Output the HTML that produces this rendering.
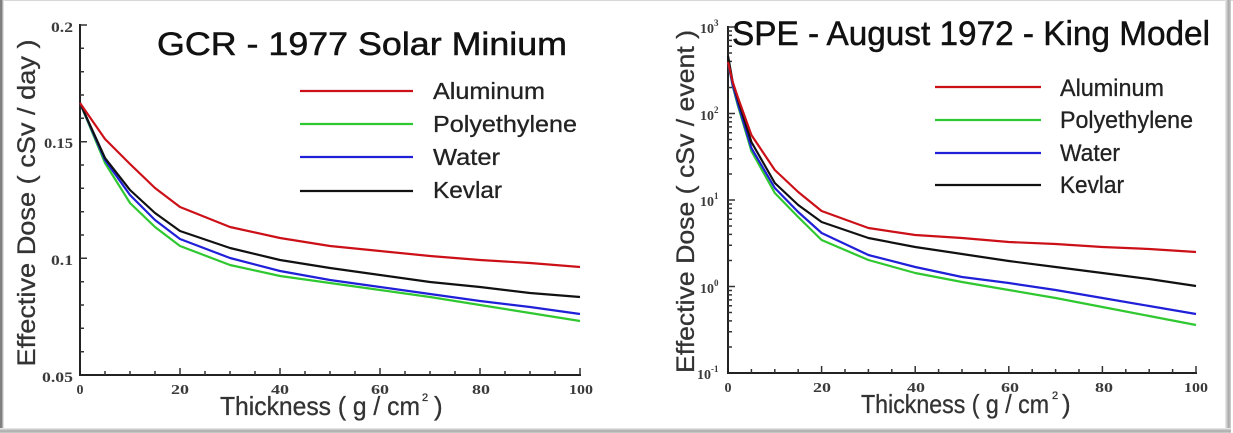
<!DOCTYPE html>
<html><head><meta charset="utf-8"><style>
html,body{margin:0;padding:0;background:#fff;width:1233px;height:433px;overflow:hidden}
svg{display:block}
.t{font-family:"Liberation Sans",sans-serif}
.s{font-family:"Liberation Serif",serif;fill:#3a3a3a;font-weight:bold}
</style></head><body>
<svg width="1233" height="433" viewBox="0 0 1233 433" xmlns="http://www.w3.org/2000/svg">
<defs>
<linearGradient id="gr" x1="0" x2="1" y1="0" y2="0"><stop offset="0" stop-color="#f0f0f0"/><stop offset="0.6" stop-color="#a8a8a8"/><stop offset="1" stop-color="#d0d0d0"/></linearGradient>
<linearGradient id="gb" x1="0" x2="0" y1="0" y2="1"><stop offset="0" stop-color="#f0f0f0"/><stop offset="0.6" stop-color="#a8a8a8"/><stop offset="1" stop-color="#d0d0d0"/></linearGradient>
</defs>
<rect width="1233" height="433" fill="#fff"/>
<!-- frame -->
<rect x="0" y="0" width="1233" height="1" fill="#d8d8d8"/>
<rect x="0" y="0" width="2" height="433" fill="#808080"/>
<rect x="2" y="0" width="1" height="433" fill="#b0b0b0"/>
<rect x="3" y="0" width="1" height="433" fill="#e0e0e0"/>
<rect x="1225" y="0" width="6" height="432" fill="url(#gr)"/>
<rect x="0" y="428" width="1231" height="5" fill="url(#gb)"/>

<!-- ============ LEFT CHART ============ -->
<g stroke="#222" stroke-width="2" fill="none">
<path d="M80 24V375H581"/>
</g>
<g stroke="#333" stroke-width="1.5" fill="none">
<path d="M80 25h7M80 141.7h7M80 258.3h7"/>
<path d="M80 351.7h4M80 328.3h4M80 305h4M80 281.7h4M80 235h4M80 211.7h4M80 188.3h4M80 165h4M80 118.3h4M80 95h4M80 71.7h4M80 48.3h4"/>
<path d="M180 375v-7M280 375v-7M380 375v-7M480 375v-7M580 375v-7"/>
<path d="M105 375v-4M130 375v-4M155 375v-4M205 375v-4M230 375v-4M255 375v-4M305 375v-4M330 375v-4M355 375v-4M405 375v-4M430 375v-4M455 375v-4M505 375v-4M530 375v-4M555 375v-4"/>
</g>
<g class="s" font-size="15" text-anchor="end">
<text x="73" y="32" textLength="22" lengthAdjust="spacingAndGlyphs">0.2</text>
<text x="73" y="148" textLength="29" lengthAdjust="spacingAndGlyphs">0.15</text>
<text x="73" y="265" textLength="22" lengthAdjust="spacingAndGlyphs">0.1</text>
<text x="73" y="382" textLength="31" lengthAdjust="spacingAndGlyphs">0.05</text>
</g>
<g class="s" font-size="14" text-anchor="middle">
<text x="80" y="394">0</text>
<text x="180" y="394" textLength="18" lengthAdjust="spacingAndGlyphs">20</text>
<text x="280" y="394" textLength="18" lengthAdjust="spacingAndGlyphs">40</text>
<text x="380" y="394" textLength="18" lengthAdjust="spacingAndGlyphs">60</text>
<text x="481" y="394" textLength="18" lengthAdjust="spacingAndGlyphs">80</text>
<text x="581" y="394" textLength="24" lengthAdjust="spacingAndGlyphs">100</text>
</g>
<g stroke="#333" stroke-width="0.3">
<text class="t" fill="#333" font-size="25" text-anchor="middle" transform="translate(35,203) rotate(-90)" textLength="327" lengthAdjust="spacingAndGlyphs">Effective Dose ( cSv / day )</text>
<text class="t" fill="#333" font-size="26" x="220" y="415" textLength="200" lengthAdjust="spacingAndGlyphs">Thickness ( g / cm</text>
<text class="t" fill="#333" font-size="11" x="422" y="401">2</text>
<text class="t" fill="#333" font-size="26" x="434" y="415">)</text>
</g>
<text class="t" fill="#111" stroke="#111" stroke-width="0.5" font-size="32" x="157" y="55" textLength="410" lengthAdjust="spacingAndGlyphs">GCR - 1977 Solar Minium</text>
<!-- legend left -->
<g stroke-width="2.2">
<line x1="300" y1="91" x2="413" y2="91" stroke="#cc1018"/>
<line x1="300" y1="124" x2="413" y2="124" stroke="#30c830"/>
<line x1="300" y1="157" x2="413" y2="157" stroke="#2020d8"/>
<line x1="300" y1="191" x2="413" y2="191" stroke="#111"/>
</g>
<g class="t" fill="#222" stroke="#222" stroke-width="0.3" font-size="23">
<text x="433" y="99" textLength="112" lengthAdjust="spacingAndGlyphs">Aluminum</text>
<text x="433" y="132" textLength="144" lengthAdjust="spacingAndGlyphs">Polyethylene</text>
<text x="433" y="165" textLength="67" lengthAdjust="spacingAndGlyphs">Water</text>
<text x="433" y="198" textLength="69" lengthAdjust="spacingAndGlyphs">Kevlar</text>
</g>
<!-- data left -->
<g fill="none" stroke-width="2.2" stroke-linejoin="round">
<polyline stroke="#30c830" points="80,103 105,163 130,203 155,227 180,246 230,265 280,276 330,283 380,290 430,297 480,305 530,313 580,321"/>
<polyline stroke="#2020d8" points="80,103 105,160 130,195 155,220 180,239 230,258 280,271 330,280 380,287 430,294 480,301 530,307 580,314"/>
<polyline stroke="#111" points="80,103 105,158 130,190 155,213 180,231 230,248 280,260 330,268 380,275 430,282 480,287 530,293 580,297"/>
<polyline stroke="#cc1018" points="80,103 105,139 130,164 155,188 180,207 230,227 280,238 330,246 380,251 430,256 480,260 530,263 580,267"/>
</g>

<!-- ============ RIGHT CHART ============ -->
<g stroke="#222" stroke-width="2" fill="none">
<path d="M728 26V373H1197"/>
</g>
<g stroke="#333" stroke-width="1.5" fill="none">
<path d="M728 27h7M728 113.5h7M728 200h7M728 286.5h7"/>
<path d="M728 347h4M728 331.7h4M728 320.9h4M728 312.5h4M728 305.7h4M728 299.9h4M728 294.9h4M728 290.5h4M728 260.5h4M728 245.2h4M728 234.4h4M728 226h4M728 219.2h4M728 213.4h4M728 208.4h4M728 204h4M728 174h4M728 158.7h4M728 147.9h4M728 139.5h4M728 132.7h4M728 126.9h4M728 121.9h4M728 117.5h4M728 87.5h4M728 72.2h4M728 61.4h4M728 53h4M728 46.2h4M728 40.4h4M728 35.4h4M728 31h4"/>
<path d="M821.6 373v-7M915.2 373v-7M1008.8 373v-7M1102.4 373v-7M1196 373v-7"/>
<path d="M751.4 373v-4M774.8 373v-4M798.2 373v-4M845 373v-4M868.4 373v-4M891.8 373v-4M938.6 373v-4M962 373v-4M985.4 373v-4M1032.2 373v-4M1055.6 373v-4M1079 373v-4M1125.8 373v-4M1149.2 373v-4M1172.6 373v-4"/>
</g>
<g class="s" font-size="14">
<text x="700" y="33">10<tspan font-size="9" dy="-7">3</tspan></text>
<text x="700" y="120">10<tspan font-size="9" dy="-7">2</tspan></text>
<text x="700" y="206">10<tspan font-size="9" dy="-7">1</tspan></text>
<text x="700" y="293">10<tspan font-size="9" dy="-7">0</tspan></text>
<text x="697" y="379">10<tspan font-size="9" dy="-7">-1</tspan></text>
</g>
<g class="s" font-size="14" text-anchor="middle">
<text x="728" y="392">0</text>
<text x="822" y="392" textLength="18" lengthAdjust="spacingAndGlyphs">20</text>
<text x="916" y="392" textLength="18" lengthAdjust="spacingAndGlyphs">40</text>
<text x="1010" y="392" textLength="18" lengthAdjust="spacingAndGlyphs">60</text>
<text x="1104" y="392" textLength="18" lengthAdjust="spacingAndGlyphs">80</text>
<text x="1196" y="392" textLength="24" lengthAdjust="spacingAndGlyphs">100</text>
</g>
<g stroke="#333" stroke-width="0.3">
<text class="t" fill="#333" font-size="25" text-anchor="middle" transform="translate(694,201.5) rotate(-90)" textLength="343" lengthAdjust="spacingAndGlyphs">Effective Dose ( cSv / event )</text>
<text class="t" fill="#333" font-size="26" x="861" y="413" textLength="188" lengthAdjust="spacingAndGlyphs">Thickness ( g / cm</text>
<text class="t" fill="#333" font-size="11" x="1052" y="399">2</text>
<text class="t" fill="#333" font-size="26" x="1062" y="413">)</text>
</g>
<text class="t" fill="#111" stroke="#111" stroke-width="0.5" font-size="34" x="732" y="45" textLength="478" lengthAdjust="spacingAndGlyphs">SPE - August 1972 - King Model</text>
<!-- legend right -->
<g stroke-width="2.2">
<line x1="935" y1="87" x2="1041" y2="87" stroke="#cc1018"/>
<line x1="935" y1="120" x2="1041" y2="120" stroke="#30c830"/>
<line x1="935" y1="153" x2="1041" y2="153" stroke="#2020d8"/>
<line x1="935" y1="185" x2="1041" y2="185" stroke="#111"/>
</g>
<g class="t" fill="#222" stroke="#222" stroke-width="0.3" font-size="24">
<text x="1060" y="96" textLength="104" lengthAdjust="spacingAndGlyphs">Aluminum</text>
<text x="1060" y="128" textLength="133" lengthAdjust="spacingAndGlyphs">Polyethylene</text>
<text x="1060" y="161" textLength="60" lengthAdjust="spacingAndGlyphs">Water</text>
<text x="1060" y="193" textLength="64" lengthAdjust="spacingAndGlyphs">Kevlar</text>
</g>
<!-- data right -->
<g fill="none" stroke-width="2.2" stroke-linejoin="round">
<polyline stroke="#30c830" points="728,62 732.7,86 737.4,104 751.4,151 774.8,193 798.2,217 821.6,240 868.4,260 915.2,273 962,282 1008.8,290 1055.6,298 1102.4,307 1149.2,316 1196,325"/>
<polyline stroke="#2020d8" points="728,62 732.7,85 737.4,102 751.4,148 774.8,188 798.2,212 821.6,233 868.4,255 915.2,267 962,277 1008.8,283 1055.6,290 1102.4,298 1149.2,306 1196,314"/>
<polyline stroke="#111" points="728,56 732.7,82 737.4,98 751.4,142 774.8,183 798.2,205 821.6,222 868.4,238 915.2,247 962,254 1008.8,261 1055.6,267 1102.4,273 1149.2,279 1196,286"/>
<polyline stroke="#cc1018" points="728,62 732.7,82 737.4,96 751.4,135 774.8,170 798.2,192 821.6,211 868.4,228 915.2,235 962,238 1008.8,242 1055.6,244 1102.4,247 1149.2,249 1196,252"/>
</g>
</svg>
</body></html>
